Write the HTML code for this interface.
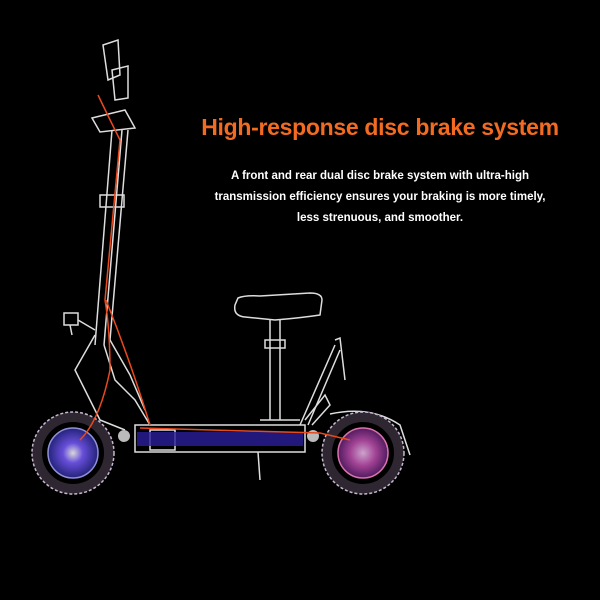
<!DOCTYPE html>
<html><head><style>
html,body{margin:0;padding:0;background:#000;width:600px;height:600px;overflow:hidden}
.t{position:absolute;left:170px;width:420px;text-align:center;font-family:"Liberation Sans",sans-serif;font-weight:bold}
</style></head><body>
<div class="t" style="top:114px;font-size:23px;color:#f36b21;letter-spacing:-0.3px">High-response disc brake system</div>
<div class="t" style="top:166px;font-size:11.5px;color:#fff;line-height:21px">A front and rear dual disc brake system with ultra-high<br>transmission efficiency ensures your braking is more timely,<br>less strenuous, and smoother.</div>
<svg width="600" height="600" style="position:absolute;left:0;top:0" fill="none">
<defs>
<radialGradient id="g1"><stop offset="0" stop-color="#fff"/><stop offset="0.4" stop-color="#7a5cff"/><stop offset="1" stop-color="#2a2a90"/></radialGradient>
<radialGradient id="g2"><stop offset="0" stop-color="#f0c0f0"/><stop offset="0.5" stop-color="#c050b0"/><stop offset="1" stop-color="#602070"/></radialGradient>
</defs>
<g stroke="#ddd" stroke-width="1.5">
<path d="M103 45 L118 40 L120 75 L108 80 Z"/>
<path d="M112 70 L128 66 L128 98 L115 100 Z"/>
<path d="M92 118 L125 110 L135 128 L100 132 Z"/>
<path d="M112 130 L95 345 M122 130 L104 345 M128 130 L110 340"/>
<rect x="100" y="195" width="24" height="12"/>
<rect x="64" y="313" width="14" height="12"/>
<path d="M70 325 L72 335 M78 320 L95 330"/>
<path d="M95 335 L75 370 L85 390 L100 420 L125 430"/>
<path d="M104 345 L115 380 L135 400 L150 425 M110 340 L130 375 L145 410"/>
<rect x="135" y="425" width="170" height="27"/>
<rect x="150" y="430" width="25" height="20"/>
<path d="M258 452 L260 480"/>
<path d="M238 298 Q245 295 260 296 L310 293 Q322 293 322 300 L320 315 Q300 318 275 320 L245 317 Q233 316 235 305 Z"/>
<path d="M270 320 L270 420 M280 320 L280 420 M260 420 L300 420"/>
<rect x="265" y="340" width="20" height="8"/>
<path d="M300 425 L335 345 M308 425 L340 350 M335 340 L340 338 L345 380"/>
<path d="M305 420 L325 395 L330 405 L312 425"/>
<path d="M330 414 Q370 405 400 425 L410 455"/>
</g>
<g stroke="#2e2630" stroke-width="10">
<circle cx="73" cy="453" r="36"/><circle cx="363" cy="453" r="36"/>
</g>
<g stroke="#c8b8d0" stroke-width="1.5" stroke-dasharray="3 2">
<circle cx="73" cy="453" r="41"/><circle cx="363" cy="453" r="41"/>
</g>
<circle cx="73" cy="453" r="25" fill="url(#g1)" opacity="0.85" stroke="#aaf" stroke-width="1.5"/>
<circle cx="363" cy="453" r="25" fill="url(#g2)" opacity="0.85" stroke="#f8c" stroke-width="1.5"/>
<rect x="137" y="432" width="166" height="14" fill="#2a1e9a" opacity="0.8"/>
<g fill="#bbb"><circle cx="124" cy="436" r="6"/><circle cx="313" cy="436" r="6"/></g>
<g stroke="#e84a1e" stroke-width="1.5">
<path d="M98 95 Q110 120 120 140 L105 300 Q110 330 110 370 Q100 420 80 440"/>
<path d="M106 300 Q130 360 150 425 M140 428 L320 433 L350 440"/>
</g>
</svg>
</body></html>
